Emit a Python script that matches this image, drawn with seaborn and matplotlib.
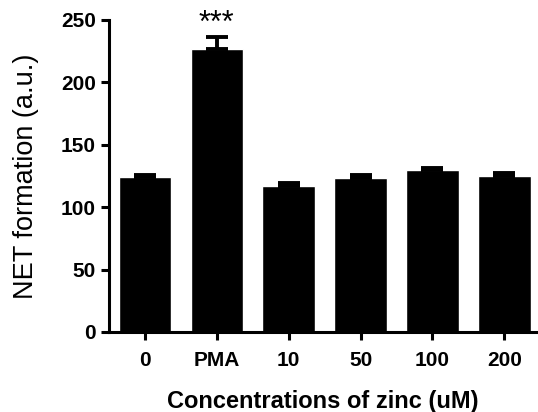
import numpy as np
import pandas as pd
import matplotlib
matplotlib.use('Agg')
import matplotlib.pyplot as plt
import seaborn as sns

# values
groups = ['0', 'PMA', '10', '50', '100', '200']
means = [124.0, 226.5, 117.2, 123.6, 129.7, 125.2]
sems = [2.0, 10.0, 2.0, 2.0, 2.0, 2.0]

df = pd.DataFrame({'group': groups, 'net': means})

sns.set_style('ticks')
plt.rcParams['font.family'] = ['Liberation Sans', 'DejaVu Sans']
plt.rcParams['text.color'] = 'black'
plt.rcParams['axes.labelcolor'] = 'black'
plt.rcParams['xtick.color'] = 'black'
plt.rcParams['ytick.color'] = 'black'

fig = plt.figure(figsize=(5.38, 4.12), dpi=100)
ax = fig.add_axes([0.2026, 0.1942, 0.795, 0.7573])

sns.barplot(data=df, x='group', y='net', color='black', width=0.73,
            saturation=1, errorbar=None, ax=ax)
ax.errorbar(range(len(groups)), means, yerr=[np.zeros(len(sems)), sems],
            fmt='none', ecolor='black', elinewidth=2.8, capsize=8,
            capthick=2.8, zorder=3)

ax.text(1, 246.5, '***', ha='center', va='center', fontsize=22)

ax.set_ylim(0, 250)
ax.set_yticks([0, 50, 100, 150, 200, 250])
ax.set_xlim(-0.5, 5.45)
ax.set_xlabel('Concentrations of zinc (uM)', fontsize=17, fontweight='bold',
              labelpad=14)
ax.set_ylabel('NET formation (a.u.)', fontsize=19.5, labelpad=16)

for lab in ax.get_xticklabels() + ax.get_yticklabels():
    lab.set_fontweight('bold')
ax.tick_params(labelsize=15, width=2.2, length=6, color='black')
ax.tick_params(axis='x', pad=8)

for s in ['left', 'bottom']:
    ax.spines[s].set_linewidth(2.2)
    ax.spines[s].set_color('black')
ax.spines['top'].set_visible(False)
ax.spines['right'].set_visible(False)

fig.savefig('out.png', dpi=100)
